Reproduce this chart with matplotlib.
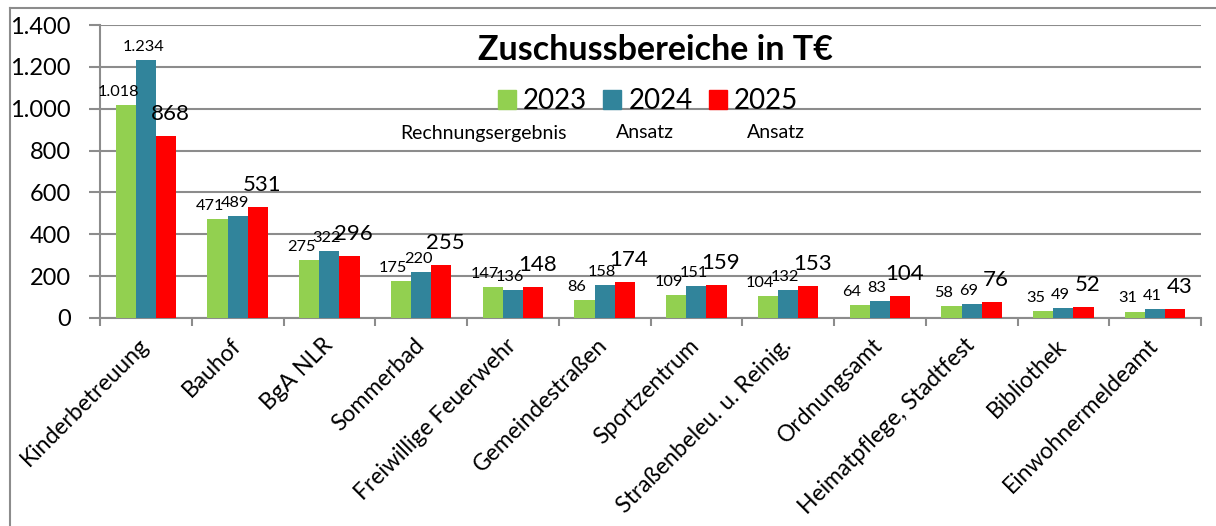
import matplotlib
matplotlib.use("Agg")
import matplotlib.pyplot as plt
import numpy as np
from matplotlib.patches import Rectangle
from matplotlib.lines import Line2D
from matplotlib.transforms import ScaledTranslation

plt.rcParams['font.family'] = ['Lato', 'DejaVu Sans']

categories = ["Kinderbetreuung", "Bauhof", "BgA NLR", "Sommerbad", "Freiwillige Feuerwehr",
              "Gemeindestraßen", "Sportzentrum", "Straßenbeleu. u. Reinig.", "Ordnungsamt",
              "Heimatpflege, Stadtfest", "Bibliothek", "Einwohnermeldeamt"]
v2023 = [1018, 471, 275, 175, 147, 86, 109, 104, 64, 58, 35, 31]
v2024 = [1234, 489, 322, 220, 136, 158, 151, 132, 83, 69, 49, 41]
v2025 = [868, 531, 296, 255, 148, 174, 159, 153, 104, 76, 52, 43]
series_names = ["2023", "2024", "2025"]
series_notes = ["Rechnungsergebnis", "Ansatz", "Ansatz"]
colors = ["#92D050", "#31849B", "#FF0000"]
yticks = [0, 200, 400, 600, 800, 1000, 1200, 1400]

W, H = 1216, 526
fig = plt.figure(figsize=(W / 100, H / 100), dpi=100)
ax = fig.add_axes([100 / W, 1 - 318 / H, 1101 / W, 293 / H])

def fmt(v):
    return f"{v:,}".replace(",", ".")

x = np.arange(len(categories))
bw = 0.22
gray = "#8c8c8c"
label_dx = [-5.5, -2, 3]
for i, (vals, c) in enumerate(zip([v2023, v2024, v2025], colors)):
    pos = x + (i - 1) * bw
    ax.bar(pos, vals, width=bw, color=c, zorder=3, label=series_names[i])
    big = (i == 2)
    for p, v in zip(pos, vals):
        ax.annotate(fmt(v), (p, v), xytext=(label_dx[i], 11.5 if big else 6.5),
                    textcoords="offset points", ha="center", va="baseline",
                    fontsize=16 if big else 11.8, color="black", zorder=6)

ax.set_xlim(-0.5, len(categories) - 0.5)
ax.set_ylim(0, 1400)
ax.set_yticks(yticks)
ax.set_yticklabels([fmt(t) for t in yticks], fontsize=17)
ax.yaxis.grid(True, color=gray, linewidth=1.5, zorder=0)
ax.tick_params(axis="y", length=8, width=1.5, color=gray, pad=13)

ax.set_xticks(x)
ax.set_xticklabels(categories, rotation=45, ha="right", rotation_mode="anchor", fontsize=16.5)
ax.tick_params(axis="x", length=0, pad=10)
shift = ScaledTranslation(-5.5 / 72, -2 / 72, fig.dpi_scale_trans)
for lab in ax.get_xticklabels():
    lab.set_transform(lab.get_transform() + shift)
ax.set_xticks(np.arange(-0.5, len(categories)), minor=True)
ax.tick_params(axis="x", which="minor", length=6, width=1.5, color=gray)

for s in ["top", "right"]:
    ax.spines[s].set_visible(False)
for s in ["left", "bottom"]:
    ax.spines[s].set_color(gray)
    ax.spines[s].set_linewidth(1.5)

fig.text(655 / W, 1 - 50 / H, "Zuschussbereiche in T€", fontsize=24.5, fontweight="bold",
         ha="center", va="center")

handles = [Rectangle((0, 0), 1, 1, color=c) for c in colors]
fig.legend(handles, series_names, loc="center", bbox_to_anchor=(648 / W, 1 - 101 / H),
           ncol=3, frameon=False, fontsize=20, handlelength=0.65, handleheight=0.65,
           handletextpad=0.25, columnspacing=0.6, borderpad=0)

note_x = [484, 645, 776]
for nx, t in zip(note_x, series_notes):
    fig.text(nx / W, 1 - 133 / H, t, fontsize=14, ha="center", va="center")

fig.add_artist(Line2D([10 / W, 10 / W], [1 - 8 / H, 0], transform=fig.transFigure,
                      color=gray, linewidth=1.5))
fig.add_artist(Line2D([10 / W, 1], [1 - 8 / H, 1 - 8 / H], transform=fig.transFigure,
                      color=gray, linewidth=1.5))

fig.savefig("out.png", dpi=100)
